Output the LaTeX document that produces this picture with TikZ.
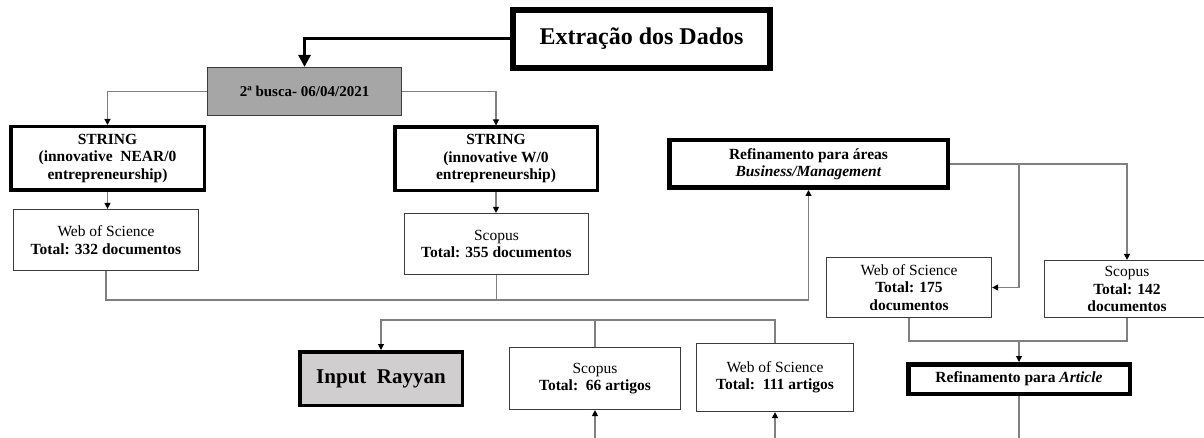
\documentclass[tikz,border=0pt]{standalone}
\usepackage{fontspec}
\setmainfont{Liberation Serif}
\usetikzlibrary{arrows.meta}
\definecolor{lineg}{RGB}{128,128,128}
\definecolor{boxg}{RGB}{60,60,60}
\definecolor{fillA}{RGB}{166,166,166}
\definecolor{fillB}{RGB}{208,206,206}
\begin{document}
\begin{tikzpicture}[x=1pt,y=-1pt,
  base/.style={align=center, inner sep=0pt, font=\fontsize{15.5}{17.5}\selectfont},
  heavy/.style={base, draw=black, line width=#1, fill=white},
  light/.style={base, draw=boxg, line width=1.2pt, fill=white},
  bftext/.style={font=\fontsize{15.5}{17.5}\selectfont\bfseries},
  conn/.style={draw=lineg, line width=1.1pt},
  arr/.style={conn, -{Triangle[length=6pt,width=6pt,color=black,fill=black]}},
  bigarr/.style={draw=black, line width=3pt, -{Triangle[length=12pt,width=12pt]}}
]
\useasboundingbox (0,0) rectangle (1204,438);

% boxes
\node[heavy=6pt, minimum width=257pt, minimum height=58pt, font=\fontsize{24}{28}\selectfont\bfseries] (ext) at (641.5,39) {Extração dos Dados};
\node[light, fill=fillA, minimum width=194pt, minimum height=48pt, font=\fontsize{15}{17}\selectfont\bfseries] (busca) at (304.5,91.5) {2ª busca- 06/04/2021};
\node[heavy=3.5pt, minimum width=193.5pt, minimum height=63.5pt, bftext] (s1) at (107.5,158.5) {STRING\\(innovative\ \ NEAR/0\\entrepreneurship)};
\node[heavy=3.5pt, minimum width=202.5pt, minimum height=63.5pt, bftext] (s2) at (496,159) {STRING\\(innovative W/0\\entrepreneurship)};
\node[light, minimum width=185pt, minimum height=61pt] (w1) at (106,240) {Web of Science\\\textbf{Total: 332 documentos}};
\node[light, minimum width=184pt, minimum height=61pt] (c1) at (496.5,244) {Scopus\\\textbf{Total: 355 documentos}};
\node[heavy=4.5pt, minimum width=278.5pt, minimum height=47.5pt, bftext] (ref) at (808.5,164) {Refinamento para áreas\\\textit{Business/Management}};
\node[light, minimum width=165pt, minimum height=60pt] (w2) at (909,287.5) {Web of Science\\\textbf{Total: 175}\\\textbf{documentos}};
\node[light, minimum width=165pt, minimum height=57pt] (c2) at (1127,289) {Scopus\\\textbf{Total: 142}\\\textbf{documentos}};
\node[heavy=3.5pt, fill=fillB, minimum width=162.5pt, minimum height=53.5pt, font=\fontsize{21}{25}\selectfont\bfseries] (inp) at (381,378.5) {Input\ \ Rayyan};
\node[light, minimum width=171pt, minimum height=62pt] (c3) at (595,378.5) {Scopus\\\textbf{Total:\ \ 66 artigos}};
\node[light, minimum width=157pt, minimum height=68pt] (w3) at (775,377.5) {Web of Science\\\textbf{Total:\ \ 111 artigos}};
\node[heavy=4.5pt, minimum width=221.5pt, minimum height=29.5pt, bftext] (art) at (1019,379) {Refinamento para \textit{Article}};

% junction coordinates
\coordinate (jA) at (808.5,300);
\coordinate (jB) at (1019,164);
\coordinate (jC) at (1019,341);
\coordinate (jD) at (381,320);
\coordinate (endA) at (1019,440);
\coordinate (bA) at (595,440);
\coordinate (bB) at (775,440);

% connectors
\draw[bigarr] (ext.west) -| (busca.north);
\draw[arr] (busca.west) -| (s1.north);
\draw[arr] (busca.east) -| (s2.north);
\draw[arr] (s1.south) -- (s1.south |- w1.north);
\draw[arr] (s2.south) -- (s2.south |- c1.north);
\draw[arr] (w1.south) |- (jA) -- (ref.south);
\draw[conn] (c1.south) -- (c1.south |- jA);
\draw[arr] (ref.east) -| (c2.north);
\draw[arr] (jB) |- (w2.east);
\draw[conn] (w2.south) |- (jC) -| (c2.south);
\draw[arr] (jC) -- (art.north);
\draw[conn] (art.south) -- (endA);
\draw[arr] (w3.north) |- (jD) -- (inp.north);
\draw[conn] (c3.north) -- (c3.north |- jD);
\draw[arr] (bA) -- (c3.south);
\draw[arr] (bB) -- (w3.south);
\end{tikzpicture}
\end{document}
